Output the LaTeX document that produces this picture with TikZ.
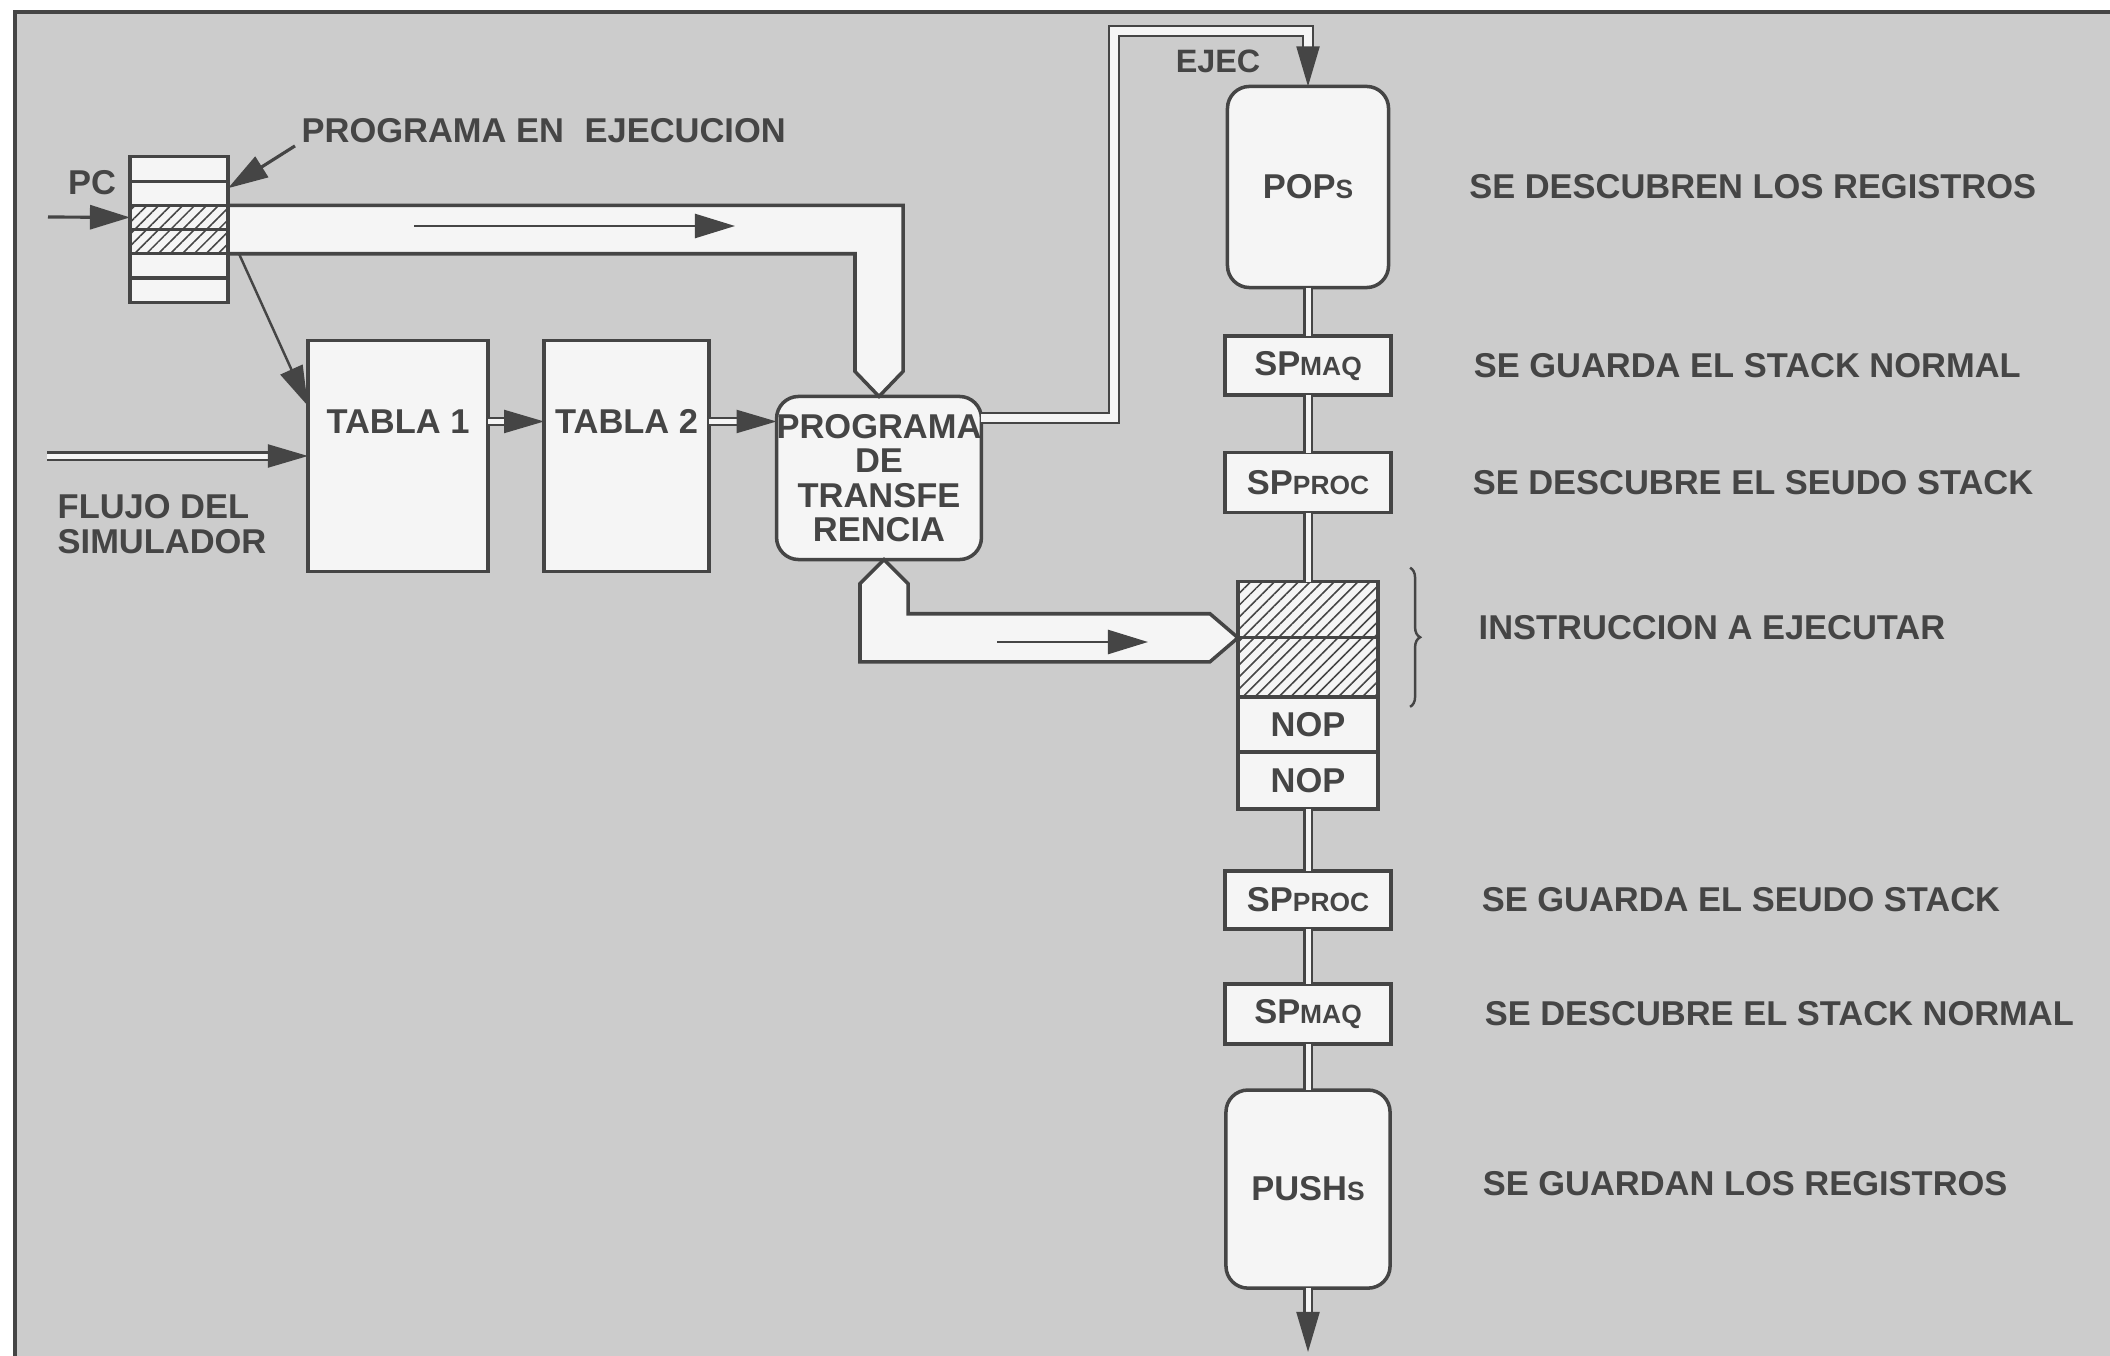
\documentclass[tikz,border=0pt]{standalone}
\usepackage{fontspec}
\setmainfont{Liberation Sans}
\usepackage{xcolor}
\usepackage{tikz}
\usetikzlibrary{positioning,arrows.meta,patterns.meta,decorations.pathreplacing}
\definecolor{ink}{gray}{0.27}
\definecolor{paper}{gray}{0.80}
\definecolor{card}{gray}{0.96}
\newcommand{\chico}[1]{{\fontsize{7.5}{7.5}\selectfont #1}}
\tikzset{
    simtxt/.style={font=\bfseries\fontsize{9.8}{10}\selectfont, text=ink, inner sep=0pt},
    simbox/.style={draw=ink, line width=1pt, fill=card, inner sep=0pt, outer sep=0pt, simtxt},
    simround/.style={simbox, rounded corners=0.22cm},
    simcell/.style={draw=ink, line width=0.9pt, fill=card, minimum width=0.98cm, minimum height=0.242cm, inner sep=0pt, outer sep=0pt},
    simhatch/.style={draw=ink, line width=0.9pt, inner sep=0pt, outer sep=0pt, preaction={fill=card}, pattern={Lines[angle=45,distance=2.4pt,line width=0.45pt]}, pattern color=ink},
    simarrow/.style={draw=ink, line width=0.9pt, -{Triangle[length=0.4cm,width=0.24cm]}},
    simthin/.style={simarrow, line width=0.7pt},
    simdouble/.style={draw=ink, line width=0.6pt, double=card, double distance=0.05cm},
    simdarrow/.style={simdouble, -{Triangle[length=0.4cm,width=0.23cm]}},
    simband/.style={draw=ink, line width=1pt, fill=card, line join=miter},
    simbrace/.style={draw=ink, line width=0.7pt, decorate, decoration={brace, amplitude=0.1cm}},
    simframe/.style={draw=ink, line width=1.2pt, fill=paper}
}

\begin{document}
\begin{tikzpicture}[x=0.01cm, y=-0.01cm]
    \useasboundingbox (0,0) rectangle (2110,1355);
    \fill[white] (0,0) rectangle (2110,1355);
    \draw[simframe] (15,12) rectangle (2140,1380);

    % pila del programa en ejecucion
    \node[simcell] (pc0) at (179,169) {};
    \node[simcell, below=0cm of pc0] (pc1) {};
    \node[simhatch, minimum width=0.98cm, minimum height=0.242cm, below=0cm of pc1] (pc2) {};
    \node[simhatch, minimum width=0.98cm, minimum height=0.242cm, below=0cm of pc2] (pc3) {};
    \node[simcell, below=0cm of pc3] (pc4) {};
    \node[simcell, below=0cm of pc4] (pc5) {};
    \node[simtxt] (pclbl) at (92,183) {PC};
    \coordinate (pcin) at (48,217);
    \draw[simarrow] (pcin) -- (pc2.west);
    \node[simtxt, anchor=west] (progejlbl) at (301,131) {PROGRAMA EN\hspace{0.6em}EJECUCION};
    \draw[simarrow] ([xshift=-0.06cm,yshift=-0.02cm]progejlbl.south west) -- ([yshift=0.05cm]pc1.east);

    % tablas y programa de transferencia
    \node[simbox, minimum width=1.80cm, minimum height=2.31cm] (tabla1) at (398,456) {};
    \node[simbox, minimum width=1.65cm, minimum height=2.31cm, right=0.56cm of tabla1] (tabla2) {};
    \node[simtxt] (t1name) at ([yshift=-0.81cm]tabla1.north) {TABLA 1};
    \node[simtxt] (t2name) at ([yshift=-0.81cm]tabla2.north) {TABLA 2};
    \node[simround, font=\bfseries\fontsize{9.8}{9.8}\selectfont, minimum width=2.04cm, minimum height=1.63cm, align=center] (prog) at (879,478) {PROGRAMA\\DE\\TRANSFE\\RENCIA};
    \draw[simthin] (pc2.south east) -- ([yshift=0.5cm]tabla1.west);
    \draw[simdarrow] (tabla1.east |- t1name) -- (tabla2.west |- t1name);
    \draw[simdarrow] (tabla2.east |- t2name) -- (prog.west |- t2name);
    \coordinate (flujoin) at (47,456);
    \draw[simdarrow] (flujoin) -- (tabla1.west);
    \node[simtxt, anchor=west, align=left] (flujolbl) at (57,524) {FLUJO DEL\\SIMULADOR};

    % columna de ejecucion
    \node[simround, minimum width=1.61cm, minimum height=2.01cm] (pops) at (1308,187) {POP\chico{S}};
    \node[simbox, minimum width=1.66cm, minimum height=0.59cm, below=0.485cm of pops] (spmaqa) {SP\chico{MAQ}};
    \node[simbox, minimum width=1.66cm, minimum height=0.60cm, below=0.575cm of spmaqa] (sproca) {SP\chico{PROC}};
    \node[simhatch, minimum width=1.40cm, minimum height=0.56cm, below=0.69cm of sproca] (hat1) {};
    \node[simhatch, minimum width=1.40cm, minimum height=0.59cm, below=0cm of hat1] (hat2) {};
    \node[simbox, minimum width=1.40cm, minimum height=0.55cm, below=0cm of hat2] (nop1) {NOP};
    \node[simbox, minimum width=1.40cm, minimum height=0.57cm, below=0cm of nop1] (nop2) {NOP};
    \node[simbox, minimum width=1.66cm, minimum height=0.58cm, below=0.62cm of nop2] (sprocb) {SP\chico{PROC}};
    \node[simbox, minimum width=1.66cm, minimum height=0.60cm, below=0.55cm of sprocb] (spmaqb) {SP\chico{MAQ}};
    \node[simround, minimum width=1.64cm, minimum height=1.98cm, below=0.46cm of spmaqb] (pushs) {PUSH\chico{S}};
    \coordinate (pushout) at (1308,1352);
    \foreach \a/\b in {pops/spmaqa, spmaqa/sproca, sproca/hat1, nop2/sprocb, sprocb/spmaqb, spmaqb/pushs}
        \draw[simdouble] (\a) -- (\b);
    \draw[simdarrow] (pushs) -- (pushout);

    % salida EJEC
    \coordinate (ejecturn) at (1114,31);
    \draw[simdarrow, double distance=0.08cm] ([yshift=0.6cm]prog.east) -| (ejecturn) -| (pops.north);
    \node[simtxt, font=\bfseries\fontsize{9.2}{10}\selectfont] (ejeclbl) at (1218,61) {EJEC};

    % flechas anchas
    \draw[simband] (pc2.north east) -| ([xshift=0.24cm,yshift=0.25cm]prog.north) -- (prog.north) -- ([xshift=-0.24cm,yshift=0.25cm]prog.north) |- (pc3.south east) -- cycle;
    \coordinate (topa) at (414,226);
    \coordinate (topb) at (735,226);
    \draw[simthin] (topa) -- (topb);
    \draw[simband] ([xshift=0.05cm]prog.south) -- ++(0.24cm,-0.24cm) |- ([xshift=-0.28cm,yshift=0.24cm]hat1.south west) -- (hat1.south west) -- ++(-0.28cm,-0.24cm) -| ([xshift=-0.19cm,yshift=-0.24cm]prog.south) -- cycle;
    \coordinate (lowa) at (997,642);
    \coordinate (lowb) at (1148,642);
    \draw[simthin] (lowa) -- (lowb);

    % textos de la derecha
    \draw[simbrace] ([xshift=0.32cm,yshift=0.14cm]hat1.north east) -- ([xshift=0.32cm,yshift=-0.10cm]hat2.south east);
    \node[simtxt, right=0.80cm of pops] (l1) {SE DESCUBREN LOS REGISTROS};
    \node[simtxt, right=0.82cm of spmaqa] (l2) {SE GUARDA EL STACK NORMAL};
    \node[simtxt, right=0.81cm of sproca] (l3) {SE DESCUBRE EL SEUDO STACK};
    \node[simtxt, anchor=west] (l4) at (1478,628) {INSTRUCCION A EJECUTAR};
    \node[simtxt, right=0.90cm of sprocb] (l5) {SE GUARDA EL SEUDO STACK};
    \node[simtxt, right=0.93cm of spmaqb] (l6) {SE DESCUBRE EL STACK NORMAL};
    \node[simtxt, right=0.92cm of pushs, yshift=0.05cm] (l7) {SE GUARDAN LOS REGISTROS};
\end{tikzpicture}
\end{document}
